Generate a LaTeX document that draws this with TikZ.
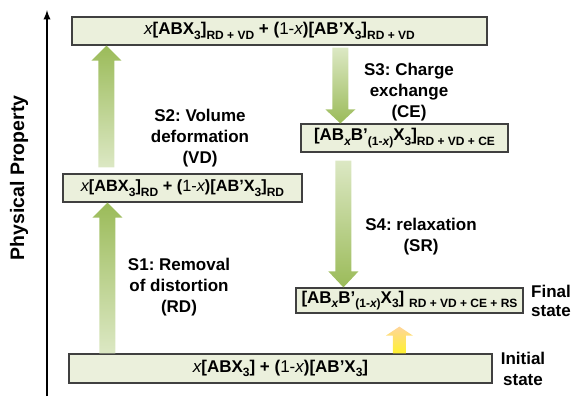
\documentclass[tikz,border=0pt]{standalone}
\usepackage{fontspec}
\setmainfont{Liberation Sans}
\usepackage{tikz}
\usetikzlibrary{positioning}
\usetikzlibrary{calc}
\frenchspacing
\definecolor{leaf}{HTML}{9BBB59}
\definecolor{leafpale}{HTML}{DCE8C4}
\definecolor{boxfill}{HTML}{EBF0DC}
\definecolor{sun}{HTML}{FFF22E}
\definecolor{sunpale}{HTML}{FFD59A}
\tikzset{every picture/.style={x=1pt,y=-1pt}}
\tikzset{stage/.style={draw=black!75,line width=1.2pt,fill=boxfill,minimum height=28pt,inner sep=0pt,font=\bfseries\fontsize{17}{20}\selectfont},
steplabel/.style={align=center,font=\bfseries\fontsize{17}{21}\selectfont},
uparrow/.style={top color=leaf,bottom color=leafpale},
downarrow/.style={top color=leafpale,bottom color=leaf}}
\newcommand{\lo}[1]{\raisebox{-0.28em}{\fontsize{12}{12}\selectfont #1}}
\newcommand{\xx}{{\mdseries\itshape x}}
% style, tail, tip, shaft half width, head half width, head length
\newcommand{\fatarrow}[6]{\path[#1] let \p1=(#2), \p2=(#3), \n1={(\y2>\y1)?1:-1} in
(\x1-#4pt,\y1) -- (\x1-#4pt,\y2-\n1*#6pt) -- (\x1-#5pt,\y2-\n1*#6pt) -- (\x1,\y2)
-- (\x1+#5pt,\y2-\n1*#6pt) -- (\x1+#4pt,\y2-\n1*#6pt) -- (\x1+#4pt,\y1) -- cycle;}
\begin{document}
\begin{tikzpicture}
\useasboundingbox (0,0) rectangle (575,399);
\coordinate (axbot) at (47,396);
\coordinate (axtop) at (47,10);
\draw[-latex, line width=2.2pt] (axbot) -- (axtop);
\node (prop) [rotate=90, font=\bfseries\fontsize{19.5}{20}\selectfont] at (19,178) {Physical Property};

\node (init) [stage, minimum width=423pt, minimum height=29pt] at (280.5,368.5) {\xx[ABX\lo{3}] + ({\mdseries 1-}\xx)[AB’X\lo{3}]};
\node (rd) [stage, minimum width=239pt, font=\bfseries\fontsize{16.3}{20}\selectfont] at (182.5,188) {\xx[ABX\lo{3}]\lo{RD} + ({\mdseries 1-}\xx)[AB’X\lo{3}]\lo{RD}};
\node (rdvd) [stage, minimum width=415pt] at (279.5,31) {\xx[ABX\lo{3}]\lo{RD + VD} + ({\mdseries 1-}\xx)[AB’X\lo{3}]\lo{RD + VD}};
\node (ce) [stage, minimum width=207pt] at (404.5,138) {[AB\lo{\itshape x}B’\lo{(1-{\itshape x})}X\lo{3}]\lo{RD + VD + CE}};
\node (rs) [stage, minimum width=227pt, minimum height=25pt] at (409.5,300.5) {[AB\lo{\itshape x}B’\lo{(1-{\itshape x})}X\lo{3}] \lo{RD + VD + CE + RS}};

\coordinate (s1tail) at ($(init.north west)+(39,0)$);
\coordinate (s1tip) at ($(rd.south west)+(45,0)$);
\coordinate (s2tail) at ($(rd.north west)+(44,-6)$);
\coordinate (s2tip) at ($(rdvd.south west)+(35,0)$);
\coordinate (s3tail) at ($(rdvd.south west)+(269,2)$);
\coordinate (s3tip) at ($(ce.north west)+(40,0)$);
\coordinate (s4tail) at ($(ce.south west)+(43,8)$);
\coordinate (s4tip) at ($(rs.north west)+(48,0)$);
\coordinate (gaptail) at ($(init.north west)+(331,0)$);
\coordinate (gaptip) at ($(rs.south west)+(104,13)$);
\fatarrow{uparrow}{s1tail}{s1tip}{8}{15}{15}
\fatarrow{uparrow}{s2tail}{s2tip}{8}{15}{15}
\fatarrow{downarrow}{s3tail}{s3tip}{8}{15}{14}
\fatarrow{downarrow}{s4tail}{s4tip}{8}{15}{16}
\fatarrow{top color=sunpale,bottom color=sun}{gaptail}{gaptip}{6.5}{13.5}{9}

\node (s1) [steplabel] at (179,287) {S1: Removal\\of distortion\\(RD)};
\node (s2) [steplabel] at (200,138) {S2: Volume\\deformation\\(VD)};
\node (s3) [steplabel] at (409,92) {S3: Charge\\exchange\\(CE)};
\node (s4) [steplabel] at (421,237) {S4: relaxation\\(SR)};
\node (fin) [steplabel, font=\bfseries\fontsize{17}{18.5}\selectfont] at (551,301) {Final\\state};
\node (ini) [steplabel] at (523,369) {Initial\\state};
\end{tikzpicture}
\end{document}
